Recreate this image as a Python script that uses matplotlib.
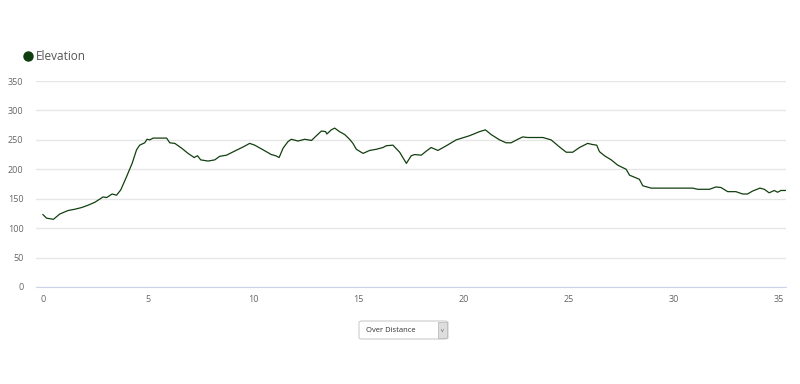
import matplotlib as mpl
import matplotlib.pyplot as plt
from matplotlib.lines import Line2D
from matplotlib.patches import FancyBboxPatch, Rectangle

mpl.rcParams['font.family'] = ['Open Sans', 'DejaVu Sans']

# distancia (km) y elevacion (m)
distancia = [0.0, 0.17, 0.5, 0.8, 1.2, 1.5, 1.84, 2.15, 2.47, 2.86, 3.03, 3.29, 3.5, 3.7,
             3.97, 4.24, 4.45, 4.6, 4.84, 4.95, 5.08, 5.24, 5.88, 6.03, 6.27, 6.59, 6.9,
             7.19, 7.35, 7.5, 7.85, 8.17, 8.4, 8.73, 9.12, 9.52, 9.83, 10.07, 10.47, 10.86,
             11.07, 11.23, 11.42, 11.65, 11.81, 12.13, 12.45, 12.77, 13.0, 13.24, 13.44,
             13.5, 13.71, 13.87, 14.1, 14.35, 14.58, 14.74, 14.9, 15.22, 15.53, 15.85,
             16.17, 16.32, 16.64, 16.96, 17.28, 17.51, 17.67, 17.99, 18.23, 18.46, 18.78,
             19.18, 19.65, 20.28, 20.76, 21.04, 21.31, 21.71, 22.02, 22.26, 22.58, 22.81,
             23.05, 23.77, 24.16, 24.56, 24.88, 25.19, 25.51, 25.9, 26.14, 26.33, 26.46,
             26.7, 27.02, 27.33, 27.73, 27.89, 28.36, 28.52, 28.92, 30.9, 31.13, 31.69,
             32.0, 32.24, 32.56, 32.95, 33.27, 33.5, 33.74, 34.09, 34.3, 34.53, 34.77,
             34.93, 35.09, 35.33]
elevacion = [123, 117, 115, 124, 130, 132, 135, 139, 144, 153, 152, 158, 156, 165,
             187, 210, 233, 241, 245, 251, 250, 253, 253, 245, 244, 236, 227,
             220, 223, 216, 214, 216, 222, 224, 231, 238, 244, 241, 233, 225,
             223, 220, 236, 247, 251, 248, 251, 249, 257, 265, 264,
             260, 267, 270, 264, 259, 251, 244, 234, 227, 232, 234,
             237, 240, 241, 229, 210, 223, 225, 224, 231, 237, 232,
             240, 250, 257, 264, 267, 259, 250, 245, 245, 251, 255,
             254, 254, 250, 238, 229, 229, 237, 244, 242, 241, 230,
             223, 216, 207, 200, 190, 183, 172, 168, 168, 166, 166,
             170, 169, 162, 162, 158, 158, 163, 168, 166, 160, 164,
             161, 164, 164]

ticks_x = [0, 5, 10, 15, 20, 25, 30, 35]
ticks_y = [0, 50, 100, 150, 200, 250, 300, 350]

fig = plt.figure(figsize=(8, 3.84), dpi=100)
ax = fig.add_axes([0.045, 1 - 287 / 384, 0.9375, (287 - 81) / 384])

ax.plot(distancia, elevacion, color='#123f10', linewidth=0.9)

ax.set_xlim(-0.33, 35.33)
ax.set_ylim(0, 350)
ax.set_xticks(ticks_x)
ax.set_yticks(ticks_y)
ax.grid(True, axis='y', color='#e6e6e6', linewidth=1)
ax.set_axisbelow(True)
for lado in ['top', 'right', 'left']:
    ax.spines[lado].set_visible(False)
ax.spines['bottom'].set_color('#ccd6eb')
ax.tick_params(axis='both', length=0, labelsize=6.5, colors='#666666')
ax.tick_params(axis='x', pad=6)
ax.tick_params(axis='y', pad=9)

# leyenda
fig.add_artist(Line2D([28 / 800], [1 - 56 / 384], marker='o', markersize=6.5,
                      color='#0e3d0e', linestyle='none', transform=fig.transFigure))
fig.text(36 / 800, 1 - 56 / 384, 'Elevation', fontsize=8.5, color='#555555', va='center')

# selector "Over Distance"
fig.patches.append(FancyBboxPatch((359 / 800, 1 - 339 / 384), 89 / 800, 18 / 384,
                                  boxstyle='round,pad=0,rounding_size=0.004',
                                  transform=fig.transFigure, facecolor='white',
                                  edgecolor='#cccccc', linewidth=0.8))
fig.patches.append(Rectangle((438 / 800, 1 - 338 / 384), 9 / 800, 16 / 384,
                             transform=fig.transFigure, facecolor='#dddddd',
                             edgecolor='#bbbbbb', linewidth=0.6))
fig.text(366 / 800, 1 - 330 / 384, 'Over Distance', fontsize=5.5, color='#333333', va='center')
fig.text(442.5 / 800, 1 - 330 / 384, 'v', fontsize=4, color='#555555', va='center', ha='center')

plt.savefig('out.png', dpi=100)
